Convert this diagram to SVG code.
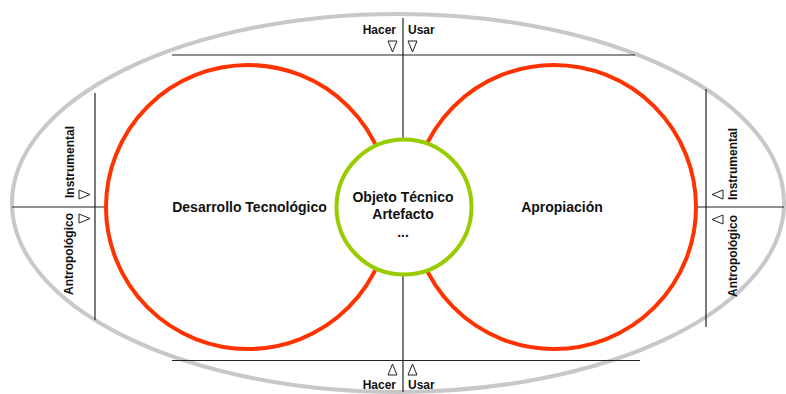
<svg xmlns="http://www.w3.org/2000/svg" width="786" height="394" viewBox="0 0 786 394">
  <style>
    .axis { stroke: #222; stroke-width: 1.2; fill: none; }
    .tri { stroke: #222; stroke-width: 1; fill: #fff; }
    .lbl { font-family: "Liberation Sans", Arial, sans-serif; font-weight: bold; font-size: 12px; fill: #111; }
    .main { font-family: "Liberation Sans", Arial, sans-serif; font-weight: bold; font-size: 14px; fill: #111; text-anchor: middle; }
    .ring { fill: none; stroke: #ff3300; stroke-width: 4; }
  </style>

  <!-- outer boundary -->
  <g id="boundary">
    <ellipse cx="398" cy="203" rx="386" ry="189" fill="none" stroke="#c8c8c8" stroke-width="4"/>
  </g>

  <!-- axes and tick triangles -->
  <g id="connectors">
    <line class="axis" x1="403" y1="18" x2="403" y2="392"/>
    <line class="axis" x1="172" y1="55" x2="635" y2="55"/>
    <line class="axis" x1="172" y1="360.5" x2="640" y2="360.5"/>
    <line class="axis" x1="95" y1="93" x2="95" y2="320"/>
    <line class="axis" x1="706" y1="89" x2="706" y2="327"/>
    <line class="axis" x1="12" y1="207" x2="106" y2="207"/>
    <line class="axis" x1="696" y1="207" x2="784" y2="207"/>

    <polygon class="tri" points="388,41 397,41 392.5,52"/>
    <polygon class="tri" points="408,41 417,41 412.5,52"/>
    <polygon class="tri" points="388,375 397,375 392.5,364"/>
    <polygon class="tri" points="408,375 417,375 412.5,364"/>
    <polygon class="tri" points="79,190 79,199 90,194.5"/>
    <polygon class="tri" points="79,214 79,223 90,218.5"/>
    <polygon class="tri" points="723,190 723,199 712,194.5"/>
    <polygon class="tri" points="723,215 723,224 712,219.5"/>
  </g>

  <!-- axis labels -->
  <g id="axis-labels">
    <text class="lbl" x="396" y="34" text-anchor="end">Hacer</text>
    <text class="lbl" x="408" y="34">Usar</text>
    <text class="lbl" x="396" y="389" text-anchor="end">Hacer</text>
    <text class="lbl" x="408" y="389">Usar</text>
    <text class="lbl" transform="translate(74,198) rotate(-90)">Instrumental</text>
    <text class="lbl" transform="translate(73,295) rotate(-90)">Antropológico</text>
    <text class="lbl" transform="translate(737,200) rotate(-90)">Instrumental</text>
    <text class="lbl" transform="translate(737,297) rotate(-90)">Antropológico</text>
  </g>

  <g id="desarrollo">
    <circle class="ring" cx="248" cy="207" r="142"/>
    <text class="main" x="249.5" y="212">Desarrollo Tecnológico</text>
  </g>

  <g id="apropiacion">
    <circle class="ring" cx="554" cy="207" r="142"/>
    <text class="main" x="562" y="212">Apropiación</text>
  </g>

  <g id="objeto">
    <circle cx="404" cy="207" r="67.5" fill="#fff" stroke="#99cc00" stroke-width="4"/>
    <text class="main" x="403" y="202">Objeto Técnico</text>
    <text class="main" x="403" y="219">Artefacto</text>
    <text class="main" x="403" y="237">...</text>
  </g>
</svg>
